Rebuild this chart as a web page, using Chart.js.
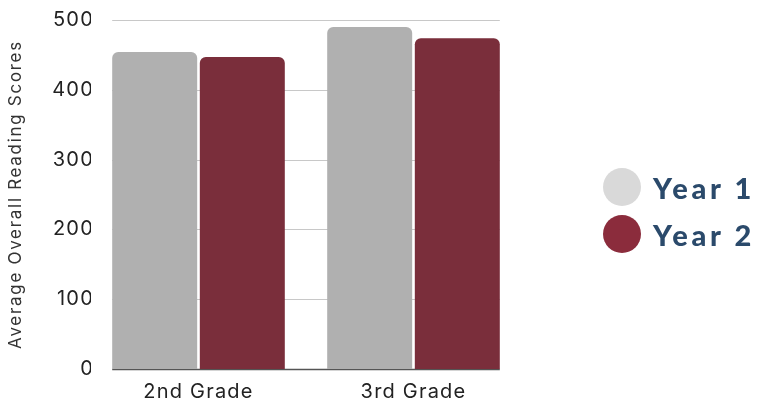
<!DOCTYPE html>
<html>
<head>
<meta charset="utf-8">
<script src="https://cdn.jsdelivr.net/npm/chart.js@4"></script>
<style>
  html, body { margin: 0; padding: 0; background: #fff; }
  #wrap { position: relative; width: 763px; height: 402px; }
  #legend { position: absolute; left: 603px; top: 168px; }
  .lg-row { display: flex; align-items: center; height: 38px; margin-bottom: 9px; }
  .lg-dot { width: 38px; height: 38px; border-radius: 50%; margin-right: 12px; }
  .lg-txt { font-family: Lato, sans-serif; font-weight: 900; font-size: 29px; letter-spacing: 3.6px; color: #2b4a6b; }
</style>
</head>
<body>
<div id="wrap">
  <canvas id="c" width="763" height="402"></canvas>
  <div id="legend"></div>
</div>
<script>
// data
var categories = ["2nd Grade", "3rd Grade"];
var year1 = [454, 490];
var year2 = [447, 474];
var seriesNames = ["Year 1", "Year 2"];
var barColors = ["#b0b0b0", "#7a2e3b"];
var dotColors = ["#d9d9d9", "#8b2c3c"];

// grid lines only under the bars, like the original
var barGrid = {
  id: "barGrid",
  beforeDatasetsDraw: function(chart) {
    var ctx = chart.ctx, y = chart.scales.y;
    var first = chart.getDatasetMeta(0).data[0];
    var last = chart.getDatasetMeta(1).data[categories.length - 1];
    if (!first || !last) return;
    var x0 = first.x - first.width / 2, x1 = last.x + last.width / 2;
    ctx.save();
    ctx.letterSpacing = "0px";
    y.ticks.forEach(function(tk) {
      var py = Math.round(y.getPixelForValue(tk.value)) + 0.5;
      ctx.strokeStyle = tk.value === 0 ? "#555" : "#c8c8c8";
      ctx.lineWidth = tk.value === 0 ? 1.5 : 1;
      ctx.beginPath(); ctx.moveTo(x0, py); ctx.lineTo(x1, py); ctx.stroke();
    });
    ctx.restore();
  }
};

// the original text is a bit spaced out
var spacedText = {
  id: "spacedText",
  beforeDraw: function(chart) {
    chart.ctx.letterSpacing = "1.2px";
    var s = chart.scales.y;
    if (s._spaced) return;
    var orig = s.drawTitle;
    s.drawTitle = function() {
      chart.ctx.save();
      chart.ctx.letterSpacing = "1.7px";
      orig.apply(this, arguments);
      chart.ctx.restore();
    };
    s._spaced = true;
  },
  afterDraw: function(chart) { chart.ctx.letterSpacing = "0px"; }
};

new Chart(document.getElementById("c").getContext("2d"), {
  type: "bar",
  data: {
    labels: categories,
    datasets: [
      { label: seriesNames[0], data: year1, backgroundColor: barColors[0], borderRadius: 6 },
      { label: seriesNames[1], data: year2, backgroundColor: barColors[1], borderRadius: 6 }
    ]
  },
  options: {
    responsive: false,
    animation: false,
    categoryPercentage: 0.815,
    barPercentage: 0.97,
    layout: { padding: { top: 20, right: 242, bottom: 0, left: 0 } },
    plugins: { legend: { display: false }, tooltip: { enabled: false } },
    scales: {
      x: {
        afterFit: function(s) { s.height = 33; },
        grid: { display: false, drawTicks: false },
        border: { display: false },
        ticks: { color: "#222", font: { family: "Inter", size: 20 }, padding: 11 }
      },
      y: {
        min: 0, max: 500,
        afterFit: function(s) { s.width = 91; },
        grid: { display: false, drawTicks: false },
        border: { display: false },
        ticks: { stepSize: 100, color: "#222", font: { family: "Inter", size: 20 }, padding: -3 },
        title: {
          display: true, text: "Average Overall Reading Scores",
          color: "#333", font: { family: "Inter", size: 17 }, padding: { top: 6, bottom: 0 }
        }
      }
    }
  },
  plugins: [barGrid, spacedText]
});

var lg = document.getElementById("legend");
seriesNames.forEach(function(n, i) {
  lg.innerHTML += '<div class="lg-row"><div class="lg-dot" style="background:' + dotColors[i] +
    '"></div><div class="lg-txt">' + n + '</div></div>';
});
</script>
</body>
</html>
